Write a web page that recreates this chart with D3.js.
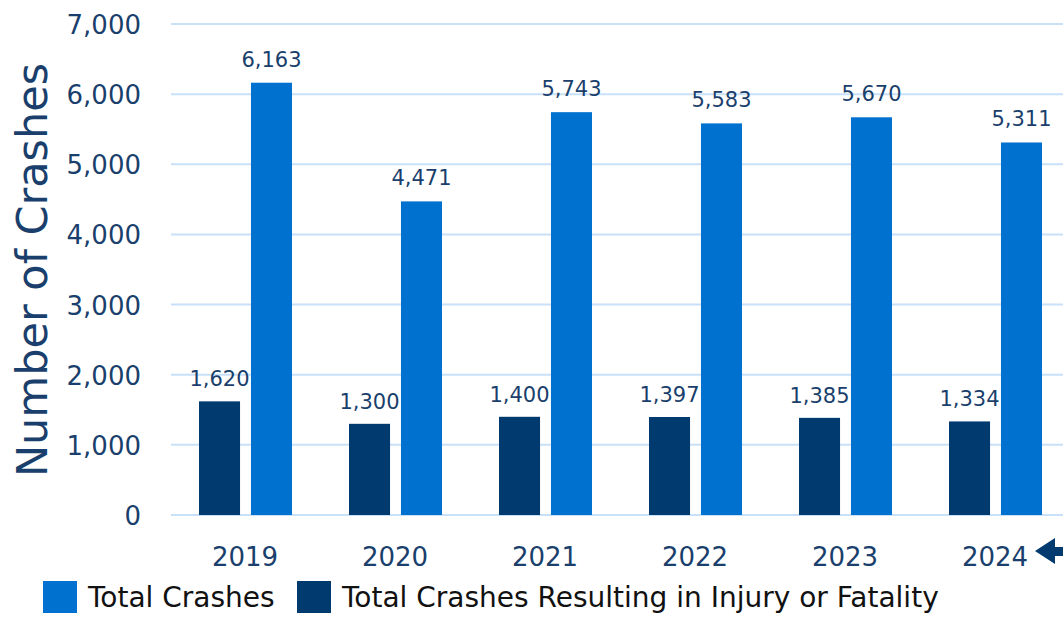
<!DOCTYPE html>
<html>
<head>
<meta charset="utf-8">
<script src="https://cdn.jsdelivr.net/npm/d3@7"></script>
<style>
  body { margin: 0; background: #fff; }
  text { font-family: "DejaVu Sans", sans-serif; }
</style>
</head>
<body>
<div id="chart"></div>
<script>
// chart data
const years = ["2019", "2020", "2021", "2022", "2023", "2024"];
const injuryCrashes = [1620, 1300, 1400, 1397, 1385, 1334];
const totalCrashes = [6163, 4471, 5743, 5583, 5670, 5311];
const yTicks = [0, 1000, 2000, 3000, 4000, 5000, 6000, 7000];

const W = 1063, H = 618;
const navy = "#003a6e", blue = "#0071ce", textCol = "#1a3f6c", grid = "#c8e1f8";

const svg = d3.select("#chart").append("svg")
    .attr("width", W).attr("height", H);

const y = d3.scaleLinear().domain([0, 7000]).range([515, 24]);
const x = d3.scaleBand().domain(years).range([170, 1070]);
const x1 = d3.scaleBand().domain(["injury", "total"]).range([29, 122]).paddingInner(0.21);

// gridlines
svg.append("g").selectAll("line").data(yTicks).join("line")
    .attr("x1", 171).attr("x2", W)
    .attr("y1", d => y(d)).attr("y2", d => y(d))
    .attr("stroke", grid).attr("stroke-width", 2);

// y tick labels
svg.append("g").selectAll("text").data(yTicks).join("text")
    .attr("x", 141).attr("y", d => y(d) + 10)
    .attr("text-anchor", "end")
    .attr("font-size", 26).attr("fill", textCol)
    .text(d => d3.format(",")(d));

// y title
svg.append("text")
    .attr("transform", "translate(47,270) rotate(-90)")
    .attr("text-anchor", "middle")
    .attr("font-size", 43).attr("fill", textCol)
    .text("Number of Crashes");

const rows = years.map((yr, i) => ({ yr, injury: injuryCrashes[i], total: totalCrashes[i] }));

const groups = svg.append("g").selectAll("g").data(rows).join("g")
    .attr("transform", d => `translate(${x(d.yr)},0)`);

groups.append("rect")
    .attr("x", x1("injury")).attr("width", x1.bandwidth())
    .attr("y", d => y(d.injury)).attr("height", d => y(0) - y(d.injury))
    .attr("fill", navy);

groups.append("rect")
    .attr("x", x1("total")).attr("width", x1.bandwidth())
    .attr("y", d => y(d.total)).attr("height", d => y(0) - y(d.total))
    .attr("fill", blue);

groups.append("text")
    .attr("x", x1("injury") + x1.bandwidth() / 2)
    .attr("y", d => y(d.injury) - 15)
    .attr("text-anchor", "middle")
    .attr("font-size", 21).attr("fill", textCol)
    .text(d => d3.format(",")(d.injury));

groups.append("text")
    .attr("x", x1("total") + x1.bandwidth() / 2)
    .attr("y", d => y(d.total) - 16)
    .attr("text-anchor", "middle")
    .attr("font-size", 21).attr("fill", textCol)
    .text(d => d3.format(",")(d.total));

// x labels
svg.append("g").selectAll("text").data(years).join("text")
    .attr("x", d => x(d) + x.bandwidth() / 2)
    .attr("y", 566)
    .attr("text-anchor", "middle")
    .attr("font-size", 26).attr("fill", textCol)
    .text(d => d);

// arrow on right edge
svg.append("path")
    .attr("d", "M1035,551 L1055,538 L1055,547 L1063,547 L1063,556 L1055,556 L1055,564 Z")
    .attr("fill", navy);

// legend
const legend = [
  { label: "Total Crashes", color: blue, x: 43 },
  { label: "Total Crashes Resulting in Injury or Fatality", color: navy, x: 297 }
];
const lg = svg.append("g").selectAll("g").data(legend).join("g")
    .attr("transform", d => `translate(${d.x},581)`);
lg.append("rect").attr("width", 34).attr("height", 32).attr("fill", d => d.color);
lg.append("text").attr("x", 45).attr("y", 26)
    .attr("font-size", 28).attr("fill", "#111")
    .text(d => d.label);
</script>
</body>
</html>
